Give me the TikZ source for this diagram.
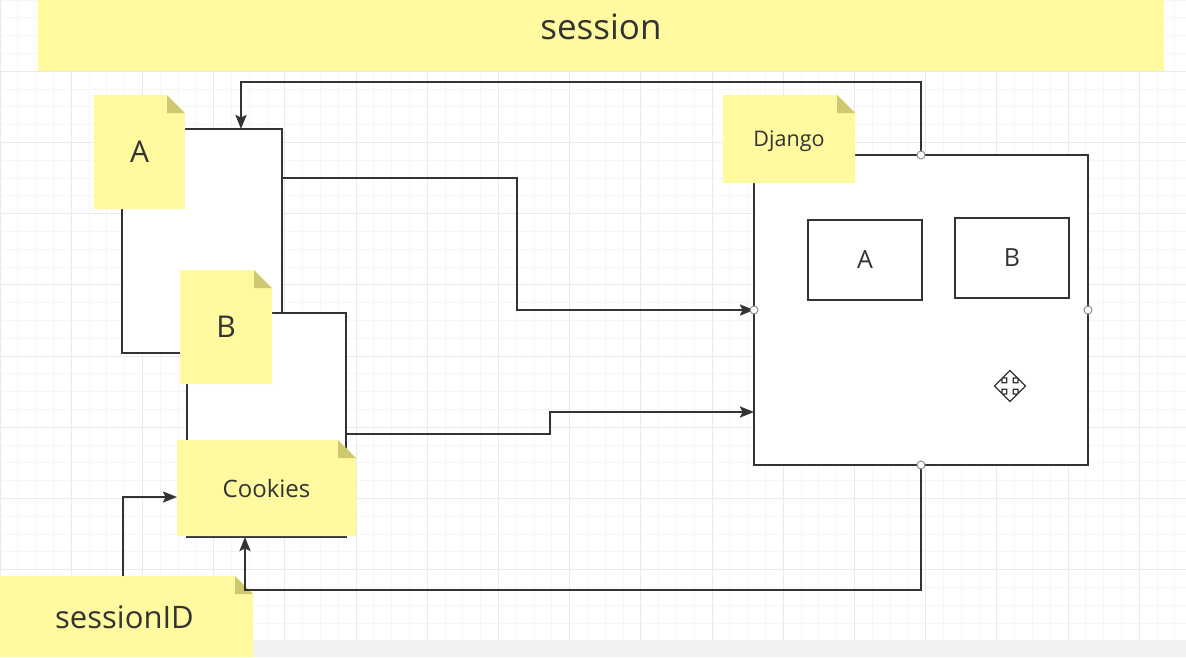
\documentclass[tikz,border=0pt]{standalone}
\usepackage{fontspec}
\setmainfont{Open Sans}
\usetikzlibrary{arrows.meta}
\definecolor{noteY}{RGB}{255,249,160}
\definecolor{foldY}{RGB}{206,201,112}
\definecolor{ink}{RGB}{51,51,51}
\definecolor{gridminor}{RGB}{246,246,246}
\definecolor{gridmajor}{RGB}{234,234,234}
\definecolor{band}{RGB}{242,242,242}
\definecolor{portgray}{RGB}{140,140,140}
\tikzset{
  x=1pt, y=-1pt,
  note/.style={rectangle, inner sep=0pt, outer sep=0pt, text=ink,
    path picture={
      \fill[noteY] (path picture bounding box.south west) -- (path picture bounding box.north west)
        -- ([xshift=-#1]path picture bounding box.north east) -- ([yshift=-#1]path picture bounding box.north east)
        -- (path picture bounding box.south east) -- cycle;
      \fill[foldY] ([xshift=-#1]path picture bounding box.north east) -- ([xshift=-#1,yshift=-#1]path picture bounding box.north east)
        -- ([yshift=-#1]path picture bounding box.north east) -- cycle;
    }},
  note/.default=18pt,
  titlebar/.style={rectangle, inner sep=0pt, outer sep=0pt, fill=noteY, text=ink},
  databox/.style={rectangle, draw=ink, fill=white, line width=2.2pt, inner sep=0pt, outer sep=0pt, text=ink},
  conn/.style={draw=ink, line width=2.2pt, -{Stealth[length=14pt,width=11pt,inset=2.5pt]}},
  port/.style={circle, draw=portgray, fill=white, line width=1pt, minimum size=8pt, inner sep=0pt},
  gminor/.style={draw=gridminor, line width=0.8pt},
  gmajor/.style={draw=gridmajor, line width=1pt},
  movecur/.style={draw=ink, fill=white, line width=1.3pt, line join=miter},
}
\begin{document}
\begin{tikzpicture}
\useasboundingbox (0,0) rectangle (1186,657);
\fill[white] (0,0) rectangle (1186,657);
% grid
\foreach \i in {0,...,67} { \draw[gminor] ({\i*17.8},0) -- ({\i*17.8},640); }
\foreach \j in {0,...,36} { \draw[gminor] (0,{\j*17.8}) -- (1186,{\j*17.8}); }
\foreach \i in {0,...,16} { \draw[gmajor] ({\i*71.2},0) -- ({\i*71.2},640); }
\foreach \j in {1,...,8} { \draw[gmajor] (0,{\j*71.2}) -- (1186,{\j*71.2}); }
\fill[band] (0,640) rectangle (1186,657);

% title
\node[titlebar, minimum width=1126pt, minimum height=71pt, font=\fontsize{35}{35}\selectfont,
      text height=20pt, text depth=13pt] (title) at (601,35.5) {session};

% data rectangles
\node[databox, minimum width=160pt, minimum height=224pt] (rectA) at (202,241) {};
\node[databox, minimum width=159pt, minimum height=224pt] (rectB) at (266.5,425) {};
\node[databox, minimum width=334pt, minimum height=310pt] (django) at (921,310) {};
\node[databox, minimum width=114pt, minimum height=80pt, font=\fontsize{25}{25}\selectfont] (inA) at (865,260) {A};
\node[databox, minimum width=114pt, minimum height=80pt, font=\fontsize{25}{25}\selectfont] (inB) at (1012,258) {B};

% notes
\node[note, minimum width=91pt, minimum height=114pt, font=\fontsize{30}{30}\selectfont] (nA) at (139.5,152) {A};
\node[note, minimum width=92pt, minimum height=114pt, font=\fontsize{30}{30}\selectfont] (nB) at (226,327) {B};
\node[note, minimum width=179pt, minimum height=96pt, font=\fontsize{24}{24}\selectfont] (cookies) at (266.5,488) {Cookies};
\node[note, minimum width=132pt, minimum height=88pt, font=\fontsize{21.5}{21.5}\selectfont, text depth=0pt] (dj) at (789,139) {Django};
\node[note, minimum width=253pt, minimum height=81pt, font=\fontsize{31}{31}\selectfont,
      text height=23pt, text depth=0pt] (sid) at (126.5,616.5) {\hspace*{-4pt}sessionID};

% connectors
\draw[conn] (django.north) -- (django.north |- 0,82) -| ([xshift=39pt]rectA.north);
\draw[conn] (rectA.east |- 0,178) -- (517,178) |- (django.west);
\draw[conn] (rectB.east |- 0,434) -- (550,434) |- (django.west |- 0,412);
\draw[conn] (django.south) -- (django.south |- 0,590) -| ([xshift=-21.5pt]rectB.south);
\draw[conn] (sid.north -| 123,0) |- (cookies.west |- 0,497);

% connection points
\node[port] (pN) at (django.north) {};
\node[port] (pW) at (django.west) {};
\node[port] (pE) at (django.east) {};
\node[port] (pS) at (django.south) {};

% move cursor
\begin{scope}[shift={(1010,386)}]
\draw[movecur] (0,-15.5) -- (7.5,-8) -- (3.2,-8) -- (3.2,-3.2) -- (8,-3.2) -- (8,-7.5) -- (15.5,0)
  -- (8,7.5) -- (8,3.2) -- (3.2,3.2) -- (3.2,8) -- (7.5,8) -- (0,15.5) -- (-7.5,8) -- (-3.2,8)
  -- (-3.2,3.2) -- (-8,3.2) -- (-8,7.5) -- (-15.5,0) -- (-8,-7.5) -- (-8,-3.2) -- (-3.2,-3.2)
  -- (-3.2,-8) -- (-7.5,-8) -- cycle;
\end{scope}
\end{tikzpicture}
\end{document}
